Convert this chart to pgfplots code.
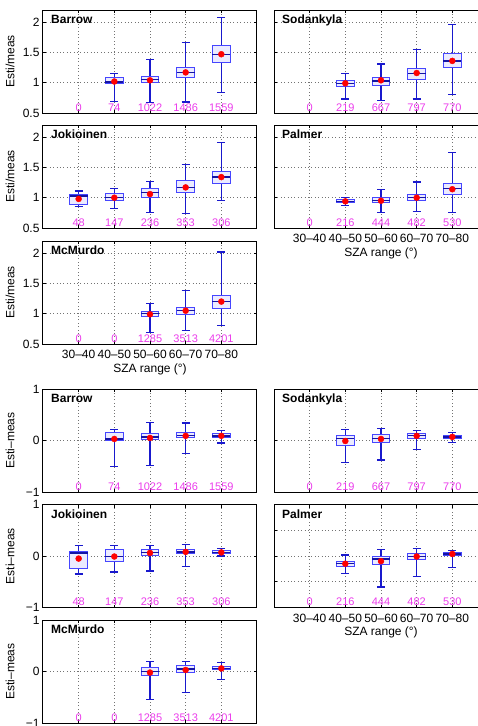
\documentclass[border=0pt]{standalone}
\usepackage{fontspec}
\setmainfont{Liberation Sans}
\usepackage{pgfplots}
\pgfplotsset{compat=1.18}
\usepgfplotslibrary{statistics}
\definecolor{bxblue}{RGB}{70,70,255}
\definecolor{wkblue}{RGB}{25,25,205}
\definecolor{cntmag}{RGB}{235,60,235}
\newcommand{\lblfont}{\fontsize{12}{14}\selectfont}
\tikzset{
 ttl/.style={anchor=north west, inner sep=0pt, xshift=8pt, yshift=-5pt, font=\bfseries\fontsize{12}{13}\selectfont},
 cnt/.style={anchor=base, inner sep=0pt, yshift=2pt, text=cntmag, font=\fontsize{11}{12}\selectfont},
}
\pgfplotsset{
 panel/.style={scale only axis, width=214pt, height=103pt, xmin=0, xmax=6,
  xtick={1,2,3,4,5}, xticklabels={}, tick align=inside, major tick length=3pt,
  grid=major, major grid style={dash pattern=on 0.8pt off 2.6pt, black!55, line width=0.6pt},
  axis line style={line width=1pt, black}, every tick/.style={black, line width=0.6pt},
  /pgf/number format/assume math mode=true,
  yticklabel style={font=\lblfont},
  xticklabel style={font=\lblfont, yshift=-3pt},
  every axis y label/.style={at={(rel axis cs:0,0.5)}, xshift=-33pt, rotate=90, anchor=center, font=\lblfont},
  every axis x label/.style={at={(rel axis cs:0.5,0)}, yshift=-25pt, anchor=center, font=\lblfont},
  boxplot/draw direction=y,
  boxplot/box extend=0.5, boxplot/whisker extend=0.22,
  boxplot/every box/.style={draw=bxblue, fill=blue!8, line width=1pt},
  boxplot/every whisker/.style={draw=wkblue, line width=1.2pt},
  boxplot/every median/.style={draw=wkblue!80!black, line width=1.3pt},
  anchor=north west},
 ratio/.style={panel, ymin=0.5, ymax=2.2, ytick={0.5,1,1.5,2}},
 diff/.style={panel, ymin=-1, ymax=1, ytick={-1,0,1}, yticklabels={−1,0,1}},
 sza/.style={xticklabels={30–40,40–50,50–60,60–70,70–80}, xlabel={SZA range (°)}},
 mean/.style={only marks, mark=*, mark size=3pt, color=red, mark options={fill=red, draw=red}},
}
\newcommand{\bx}[6]{\addplot[wkblue, boxplot prepared={draw direction=y, draw position=#1, lower whisker=#2, lower quartile=#3, median=#4, upper quartile=#5, upper whisker=#6}] coordinates {};}
\newcommand{\cnts}[6]{%
 \node[cnt] at (axis cs:1,#1) {#2};
 \node[cnt] at (axis cs:2,#1) {#3};
 \node[cnt] at (axis cs:3,#1) {#4};
 \node[cnt] at (axis cs:4,#1) {#5};
 \node[cnt] at (axis cs:5,#1) {#6};}
\begin{document}
\begin{tikzpicture}
\useasboundingbox (0,0) rectangle (478pt,-726pt);
% ===== top group: Esti/meas =====
\begin{axis}[ratio, at={(43pt,-10pt)}, ylabel={Esti/meas}]
\bx{2}{0.69}{0.99}{1.01}{1.08}{1.15}
\bx{3}{0.67}{1.00}{1.05}{1.11}{1.38}
\bx{4}{0.68}{1.08}{1.17}{1.25}{1.67}
\bx{5}{0.84}{1.33}{1.47}{1.61}{2.07}
\addplot[mean] coordinates {(2,1.02) (3,1.04) (4,1.17) (5,1.47)};
\cnts{0.5}{0}{74}{1022}{1486}{1559}
\node[ttl] at (rel axis cs:0,1) {Barrow};
\end{axis}
\begin{axis}[ratio, at={(274pt,-10pt)}, yticklabels={}]
\bx{2}{0.73}{0.93}{0.99}{1.04}{1.15}
\bx{3}{0.70}{0.96}{1.03}{1.09}{1.31}
\bx{4}{0.73}{1.06}{1.15}{1.24}{1.55}
\bx{5}{0.80}{1.25}{1.36}{1.48}{1.96}
\addplot[mean] coordinates {(2,0.99) (3,1.04) (4,1.16) (5,1.36)};
\cnts{0.5}{0}{219}{667}{797}{770}
\node[ttl] at (rel axis cs:0,1) {Sodankyla};
\end{axis}
\begin{axis}[ratio, at={(43pt,-125pt)}, ylabel={Esti/meas}]
\bx{1}{0.85}{0.89}{1.03}{1.05}{1.11}
\bx{2}{0.82}{0.95}{1.00}{1.07}{1.15}
\bx{3}{0.76}{1.01}{1.09}{1.15}{1.27}
\bx{4}{0.74}{1.09}{1.17}{1.28}{1.55}
\bx{5}{0.96}{1.23}{1.34}{1.44}{1.91}
\addplot[mean] coordinates {(1,0.98) (2,1.00) (3,1.06) (4,1.17) (5,1.34)};
\cnts{0.5}{48}{147}{236}{353}{306}
\node[ttl] at (rel axis cs:0,1) {Jokioinen};
\end{axis}
\begin{axis}[ratio, sza, at={(274pt,-125pt)}, yticklabels={}]
\bx{2}{0.87}{0.92}{0.94}{0.97}{1.01}
\bx{3}{0.75}{0.92}{0.95}{1.00}{1.13}
\bx{4}{0.77}{0.95}{1.00}{1.06}{1.26}
\bx{5}{0.75}{1.05}{1.15}{1.24}{1.75}
\addplot[mean] coordinates {(2,0.94) (3,0.95) (4,1.00) (5,1.14)};
\cnts{0.5}{0}{216}{444}{482}{530}
\node[ttl] at (rel axis cs:0,1) {Palmer};
\end{axis}
\begin{axis}[ratio, sza, at={(43pt,-241pt)}, ylabel={Esti/meas}]
\bx{3}{0.69}{0.95}{1.00}{1.04}{1.17}
\bx{4}{0.72}{0.98}{1.05}{1.11}{1.38}
\bx{5}{0.81}{1.09}{1.20}{1.30}{2.02}
\addplot[mean] coordinates {(3,0.99) (4,1.05) (5,1.20)};
\cnts{0.5}{0}{0}{1285}{3513}{4201}
\node[ttl] at (rel axis cs:0,1) {McMurdo};
\end{axis}
% ===== bottom group: Esti-meas =====
\begin{axis}[diff, at={(43pt,-389pt)}, ylabel={Esti–meas}]
\bx{2}{-0.51}{0.00}{0.03}{0.16}{0.21}
\bx{3}{-0.49}{0.01}{0.07}{0.14}{0.35}
\bx{4}{-0.26}{0.05}{0.10}{0.16}{0.34}
\bx{5}{-0.05}{0.05}{0.09}{0.13}{0.20}
\addplot[mean] coordinates {(2,0.03) (3,0.05) (4,0.09) (5,0.09)};
\cnts{-1}{0}{74}{1022}{1486}{1559}
\node[ttl] at (rel axis cs:0,1) {Barrow};
\end{axis}
\begin{axis}[diff, at={(274pt,-389pt)}, yticklabels={}]
\bx{2}{-0.42}{-0.10}{0.04}{0.09}{0.22}
\bx{3}{-0.38}{-0.04}{0.04}{0.11}{0.24}
\bx{4}{-0.17}{0.04}{0.10}{0.14}{0.20}
\bx{5}{-0.04}{0.03}{0.07}{0.10}{0.16}
\addplot[mean] coordinates {(2,-0.01) (3,0.03) (4,0.09) (5,0.07)};
\cnts{-1}{0}{219}{667}{797}{770}
\node[ttl] at (rel axis cs:0,1) {Sodankyla};
\end{axis}
\begin{axis}[diff, at={(43pt,-504.5pt)}, ylabel={Esti–meas}]
\bx{1}{-0.35}{-0.24}{0.06}{0.08}{0.21}
\bx{2}{-0.31}{-0.11}{-0.01}{0.12}{0.20}
\bx{3}{-0.29}{0.01}{0.07}{0.12}{0.21}
\bx{4}{-0.21}{0.04}{0.08}{0.12}{0.23}
\bx{5}{0.00}{0.04}{0.07}{0.10}{0.14}
\addplot[mean] coordinates {(1,-0.05) (2,-0.01) (3,0.06) (4,0.08) (5,0.07)};
\cnts{-1}{48}{147}{236}{353}{306}
\node[ttl] at (rel axis cs:0,1) {Jokioinen};
\end{axis}
\begin{axis}[diff, sza, at={(274pt,-504.5pt)}, ytick={-1,-0.5,0,0.5,1}, yticklabels={}]
\bx{2}{-0.34}{-0.20}{-0.15}{-0.10}{0.02}
\bx{3}{-0.60}{-0.16}{-0.06}{0.00}{0.12}
\bx{4}{-0.40}{-0.06}{-0.01}{0.05}{0.14}
\bx{5}{-0.23}{0.01}{0.04}{0.07}{0.11}
\addplot[mean] coordinates {(2,-0.15) (3,-0.10) (4,-0.01) (5,0.04)};
\cnts{-1}{0}{216}{444}{482}{530}
\node[ttl] at (rel axis cs:0,1) {Palmer};
\end{axis}
\begin{axis}[diff, at={(43pt,-620pt)}, ylabel={Esti–meas}]
\bx{3}{-0.55}{-0.07}{0.00}{0.07}{0.20}
\bx{4}{-0.40}{-0.02}{0.05}{0.11}{0.20}
\bx{5}{-0.16}{0.03}{0.06}{0.10}{0.18}
\addplot[mean] coordinates {(3,-0.02) (4,0.03) (5,0.06)};
\cnts{-1}{0}{0}{1285}{3513}{4201}
\node[ttl] at (rel axis cs:0,1) {McMurdo};
\end{axis}
\end{tikzpicture}
\end{document}
